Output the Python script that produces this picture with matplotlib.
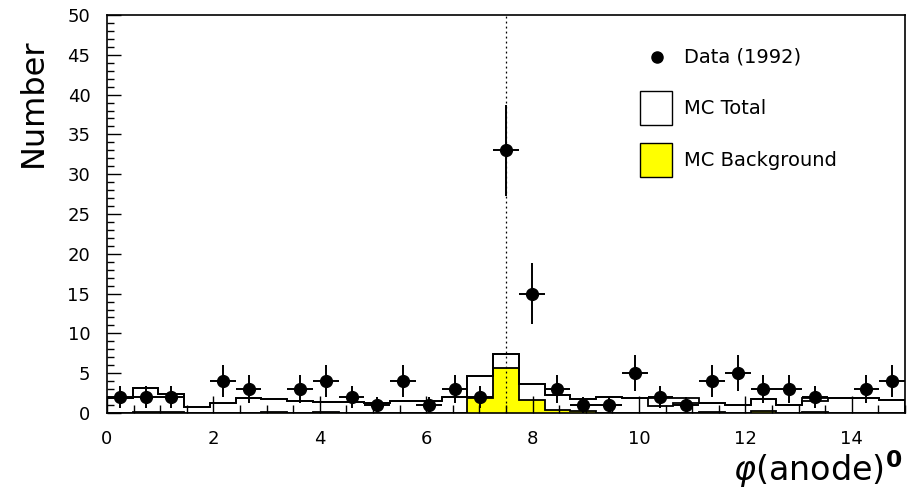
import numpy as np
import matplotlib
matplotlib.use("Agg")
import matplotlib.pyplot as plt
from matplotlib.patches import Rectangle
from matplotlib.lines import Line2D
from matplotlib.ticker import MultipleLocator

# ---- data ----
n_bins = 31
x_min, x_max = 0.0, 15.0
data_counts = [2, 2, 2, 0, 4, 3, 0, 3, 4, 2, 1, 4, 1, 3, 2, 33, 15, 3, 1, 1,
               5, 2, 1, 4, 5, 3, 3, 2, 0, 3, 4]
mc_total = [1.85, 3.1, 2.4, 0.8, 1.3, 1.85, 1.7, 1.45, 1.4, 1.35, 1.25, 1.55,
            1.5, 1.97, 4.65, 7.45, 3.6, 2.2, 1.7, 1.95, 1.9, 1.85, 1.85, 1.2,
            1.0, 1.7, 1.0, 1.85, 1.85, 1.85, 1.6]
mc_alt = [1.85, 3.1, 2.4, 0.8, 1.3, 1.85, 1.7, 1.45, 1.4, 1.35, 1.25, 1.55,
          1.5, 1.97, 4.65, 7.45, 3.6, 2.2, 1.7, 1.95, 1.9, 0.9, 1.2, 1.2,
          1.0, 1.7, 1.0, 1.45, 1.85, 1.85, 1.6]
mc_background = [0, 0.08, 0.08, 0, 0, 0, 0.08, 0, 0.08, 0, 0, 0, 0, 0, 1.9,
                 5.7, 1.6, 0.35, 0.2, 0, 0, 0, 0, 0.08, 0, 0.3, 0, 0.08, 0, 0, 0]
peak_position = 7.5
legend_labels = ["Data (1992)", "MC Total", "MC Background"]

edges = np.linspace(x_min, x_max, n_bins + 1)
centers = 0.5 * (edges[:-1] + edges[1:])
half_w = 0.5 * (edges[1] - edges[0])

fig = plt.figure(figsize=(9.07, 4.92), dpi=100)
ax = fig.add_axes([107 / 907, 79 / 492, 798 / 907, 398 / 492])

# background fill and outline
ax.stairs(mc_background, edges, fill=True, color="#ffff00", zorder=1)
ax.stairs(mc_background, edges, color="black", lw=1.3, zorder=2)
ax.stairs(mc_alt, edges, color="black", lw=1.3, zorder=2)
ax.stairs(mc_total, edges, color="black", lw=1.3, zorder=2)

ax.axvline(peak_position, color="black", lw=0.9, ls=(0, (1.5, 2.5)), zorder=1)

d = np.array(data_counts, dtype=float)
mask = d > 0
ax.errorbar(centers[mask], d[mask], yerr=np.sqrt(d[mask]), xerr=half_w,
            fmt="o", color="black", ms=8.5, elinewidth=1.4, capsize=0, zorder=3)

ax.set_xlim(x_min, x_max)
ax.set_ylim(0, 50)
ax.xaxis.set_major_locator(MultipleLocator(2))
ax.xaxis.set_minor_locator(MultipleLocator(0.5))
ax.yaxis.set_major_locator(MultipleLocator(5))
ax.yaxis.set_minor_locator(MultipleLocator(1))
ax.tick_params(which="both", direction="in", top=False, right=False,
               labelsize=13, width=1.0)
ax.tick_params(axis="x", which="major", length=12, pad=12)
ax.tick_params(axis="x", which="minor", length=6)
ax.tick_params(axis="y", which="major", length=10, pad=12)
ax.tick_params(axis="y", which="minor", length=5)
for s in ax.spines.values():
    s.set_linewidth(1.2)

# legend drawn manually in axes coordinates
tx = (684 - 107) / 798
ax.add_line(Line2D([(657 - 107) / 798], [(413 - 57) / 398], marker="o",
                   color="black", ms=8, transform=ax.transAxes))
ax.text(tx, (413 - 57) / 398, legend_labels[0], transform=ax.transAxes,
        fontsize=14, va="center", ha="left")
ax.add_patch(Rectangle(((640 - 107) / 798, (413 - 125) / 398), 32 / 798, 34 / 398,
                       transform=ax.transAxes, facecolor="white",
                       edgecolor="black", lw=1))
ax.text(tx, (413 - 108) / 398, legend_labels[1], transform=ax.transAxes,
        fontsize=14, va="center", ha="left")
ax.add_patch(Rectangle(((640 - 107) / 798, (413 - 177) / 398), 32 / 798, 34 / 398,
                       transform=ax.transAxes, facecolor="#ffff00",
                       edgecolor="black", lw=1))
ax.text(tx, (413 - 160) / 398, legend_labels[2], transform=ax.transAxes,
        fontsize=14, va="center", ha="left")

fig.text(33 / 907, (492 - 38) / 492, "Number", rotation=90, fontsize=23,
         ha="center", va="top")
fig.text(0.995, 0.005, r"$\varphi$(anode)$^{\mathbf{0}}$", fontsize=24,
         ha="right", va="bottom")

fig.savefig("out.png", dpi=100)
